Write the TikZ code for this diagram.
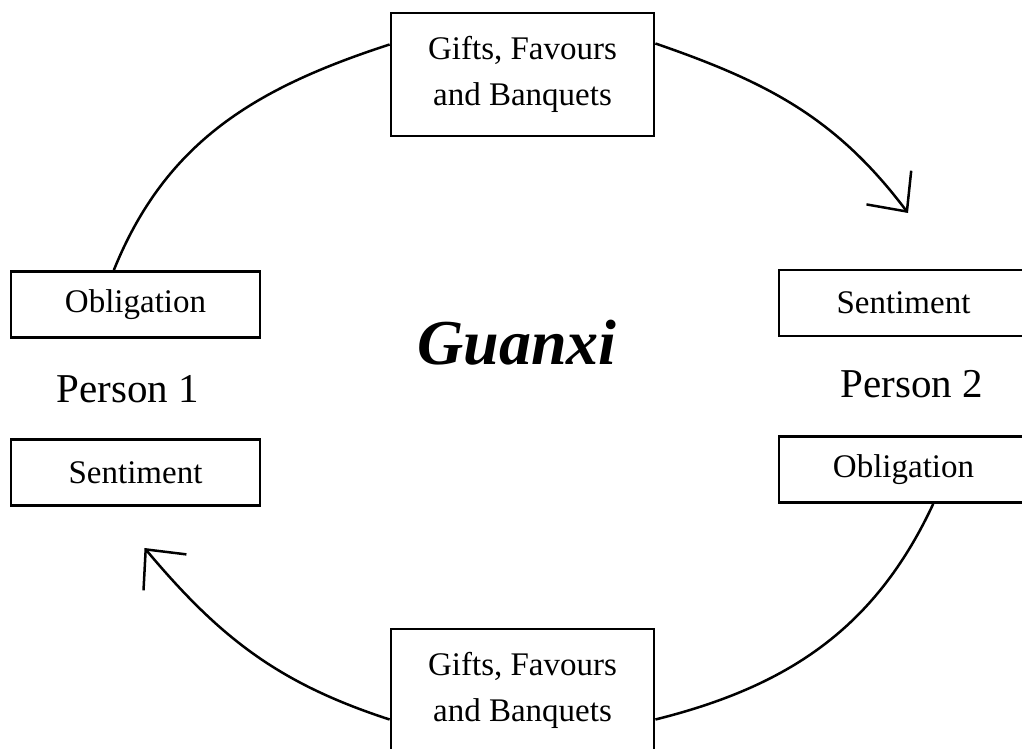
\documentclass[tikz,border=0pt]{standalone}
\usepackage{fontspec}
\setmainfont{Liberation Serif}
\usetikzlibrary{arrows.meta,calc}

\begin{document}
\begin{tikzpicture}[x=1pt,y=1pt,
  box/.style={draw, line width=2.8pt, rectangle, inner sep=0pt, align=center,
    font=\fontsize{33}{46}\selectfont},
  smallbox/.style={box, minimum width=249pt, minimum height=66pt},
  bigbox/.style={box, minimum width=263pt, minimum height=123pt},
  link/.style={line width=2.5pt},
  barb/.style={-{Straight Barb[length=30pt,width=56pt,line width=2.5pt]}},
  person/.style={font=\fontsize{41}{41}\selectfont, anchor=base},
]
\useasboundingbox (0,0) rectangle (1022,749);
\fill[white] (0,0) rectangle (1022,749);

% exchange boxes
\node[bigbox] (gtop) at (522.5,674.5) {Gifts, Favours\\and Banquets};
\node[bigbox] (gbot) at (522.5,58.5) {Gifts, Favours\\and Banquets};

% person 1
\node[smallbox] (o1) at (135.5,444.5) {Obligation};
\node[smallbox] (s1) at (135.5,276.5) {Sentiment};
\node[person] (p1) at (128,346) {Person 1};

% person 2
\node[smallbox] (s2) at (903.5,446) {Sentiment};
\node[smallbox] (o2) at (903.5,279.5) {Obligation};
\node[person] (p2) at (912,351) {Person 2};

% centre title
\node[anchor=base, font=\fontsize{64}{64}\selectfont\bfseries\itshape] (gx) at (517,384) {Guanxi};

% free ends of the arrows
\coordinate (tipR) at (908,536);
\coordinate (tipL) at (144.5,201);

% cycle
\draw[link] ($(o1.north west)!0.414!(o1.north east)$) to[out=68,in=198] ([yshift=30pt]gtop.west);
\draw[link,barb] ([yshift=31pt]gtop.east) to[out=-19,in=127] (tipR);
\draw[link] ($(o2.south west)!0.618!(o2.south east)$) to[out=245,in=14] ([yshift=-29pt]gbot.east);
\draw[link,barb] ([yshift=-29pt]gbot.west) to[out=162,in=310] (tipL);
\end{tikzpicture}
\end{document}
